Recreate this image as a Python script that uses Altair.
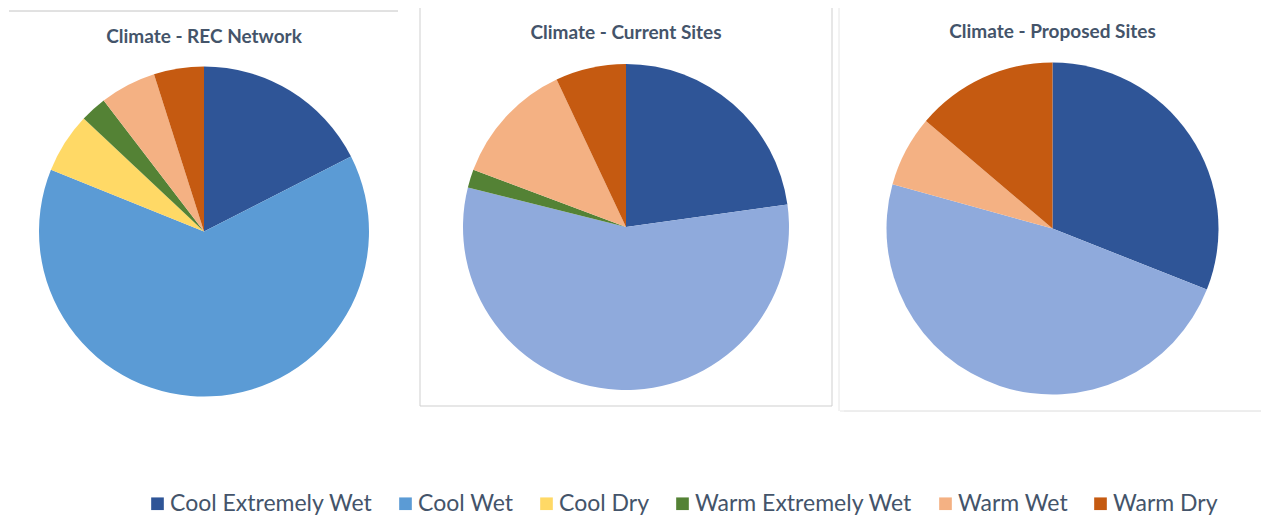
import altair as alt
import pandas as pd

# Climate class shares (%) for each group of sites
titles = ["Climate - REC Network", "Climate - Current Sites", "Climate - Proposed Sites"]
categories = ["Cool Extremely Wet", "Cool Wet", "Cool Dry",
              "Warm Extremely Wet", "Warm Wet", "Warm Dry"]
rec_network = [17.5, 63.6, 5.9, 2.6, 5.5, 4.9]
current_sites = [22.8, 56.1, 0.0, 1.8, 12.3, 7.0]
proposed_sites = [31.0, 48.3, 0.0, 0.0, 6.9, 13.8]

# Office-style palette; the site pies use a paler blue for "Cool Wet"
network_colors = ["#2F5597", "#5B9BD5", "#FFD966", "#548235", "#F4B183", "#C55A11"]
site_colors = ["#2F5597", "#8FAADC", "#FFD966", "#548235", "#F4B183", "#C55A11"]

# panel geometry
widths = [408, 436, 417]
heights = [463, 454, 457]
radii = [165, 163, 166]
title_y = [37, 33, 32]

FONT = "Lato"
TEXT_COLOR = "#44546A"


def frame_rules(rows, color):
    """Thin frame lines around a panel."""
    return alt.Chart(pd.DataFrame(rows)).mark_rule(color=color, strokeWidth=1).encode(
        x=alt.X("x:Q", scale=None), x2="x2:Q",
        y=alt.Y("y:Q", scale=None), y2="y2:Q",
    )


def pie(i, values, colors, legend):
    df = pd.DataFrame({"category": categories, "share": values,
                       "order": list(range(len(categories)))})
    df = df[df["share"] > 0]
    arcs = alt.Chart(df).mark_arc(radius=radii[i]).encode(
        theta=alt.Theta("share:Q", stack=True),
        color=alt.Color("category:N",
                        scale=alt.Scale(domain=categories, range=colors),
                        legend=legend),
        order=alt.Order("order:Q"),
    )
    title = alt.Chart(pd.DataFrame({"t": [titles[i]]})).mark_text(
        font=FONT, fontSize=19, fontWeight="bold", color=TEXT_COLOR,
        align="center", baseline="middle",
    ).encode(text="t:N", x=alt.value(widths[i] / 2), y=alt.value(title_y[i]))
    return arcs, title


legend = alt.Legend(
    orient="none", legendX=146, legendY=492, direction="horizontal",
    title=None, symbolType="square", symbolSize=160, symbolStrokeWidth=0,
    labelFont=FONT, labelFontSize=23, labelColor=TEXT_COLOR,
    labelOffset=1, columnPadding=21, labelLimit=400, padding=0,
)

a1, t1 = pie(0, rec_network, network_colors, legend)
a2, t2 = pie(1, current_sites, site_colors, None)
a3, t3 = pie(2, proposed_sites, site_colors, None)

top_line = frame_rules({"x": [9], "x2": [398], "y": [11], "y2": [11]}, "#C4C4C4")
current_frame = frame_rules({
    "x": [12, 424, 12], "x2": [12, 424, 424],
    "y": [8, 8, 406], "y2": [406, 406, 406],
}, "#CFCFCF")
proposed_edge = frame_rules({
    "x": [431, 432], "x2": [431, 436], "y": [8, 411], "y2": [411, 411],
}, "#E6E6E6")
proposed_bottom = frame_rules({"x": [0], "x2": [417], "y": [411], "y2": [411]}, "#DCDCDC")

p1 = alt.layer(top_line, a1, t1).properties(width=widths[0], height=heights[0])
p2 = alt.layer(current_frame, proposed_edge, a2, t2).properties(width=widths[1], height=heights[1])
p3 = alt.layer(proposed_bottom, a3, t3).properties(width=widths[2], height=heights[2])

chart = (
    alt.hconcat(p1, p2, p3, spacing=0, bounds="flush")
    .resolve_scale(color="independent")
    .properties(padding=0, background="white")
    .configure_view(strokeWidth=0)
)

chart.save("out.html", embed_options={"renderer": "svg", "actions": False})
